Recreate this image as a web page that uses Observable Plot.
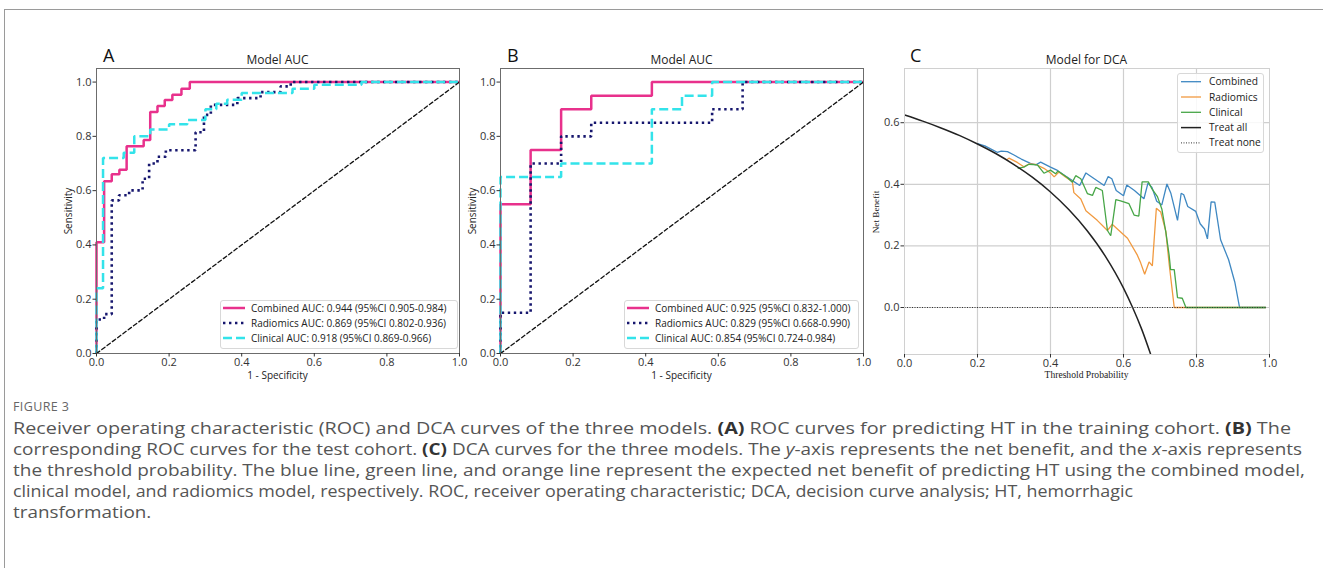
<!DOCTYPE html>
<html><head><meta charset="utf-8">
<script src="https://cdn.jsdelivr.net/npm/d3@7"></script>
<script src="https://cdn.jsdelivr.net/npm/@observablehq/plot@0.6"></script>
<style>
body{margin:0;background:#fff;}
#root{position:relative;width:1323px;height:568px;overflow:hidden;font-family:"Open Sans",sans-serif;background:#fff;}
.lbl{position:absolute;white-space:nowrap;line-height:1;}
.cap{position:absolute;left:13px;white-space:nowrap;color:#555;font-size:15.5px;line-height:21px;transform-origin:0 50%;}
.cap b{color:#333;}
</style></head><body><div id="root"></div>
<script>
// ---------- DATA ----------
const rocTicks = [0, 0.2, 0.4, 0.6, 0.8, 1.0];
const dcaXTicks = [0, 0.2, 0.4, 0.6, 0.8, 1.0];
const dcaYTicks = [0, 0.2, 0.4, 0.6];
const dcaGridX = [0.2, 0.4, 0.6, 0.8];

// Panel A: training cohort ROC (1 - specificity, sensitivity)
const trainCombinedFpr = [0,0,0.021,0.021,0.042,0.042,0.063,0.063,0.083,0.083,0.13,0.13,0.148,0.148,0.168,0.168,0.188,0.188,0.209,0.209,0.234,0.234,0.257,0.257,1];
const trainCombinedTpr = [0,0.41,0.41,0.635,0.635,0.66,0.66,0.677,0.677,0.764,0.764,0.787,0.787,0.89,0.89,0.912,0.912,0.934,0.934,0.953,0.953,0.975,0.975,1,1];
const trainRadiomicsFpr = [0,0,0.021,0.021,0.042,0.042,0.062,0.062,0.09,0.09,0.127,0.127,0.145,0.145,0.168,0.168,0.191,0.191,0.273,0.273,0.296,0.296,0.315,0.315,0.388,0.388,0.452,0.452,0.507,0.507,0.535,0.535,1];
const trainRadiomicsTpr = [0,0.125,0.125,0.145,0.145,0.564,0.564,0.583,0.583,0.601,0.601,0.644,0.644,0.7,0.7,0.725,0.725,0.749,0.749,0.815,0.815,0.879,0.879,0.916,0.916,0.941,0.941,0.963,0.963,0.984,0.984,1,1];
const trainClinicalFpr = [0,0,0.018,0.018,0.075,0.075,0.104,0.104,0.148,0.148,0.2,0.2,0.25,0.25,0.3,0.3,0.33,0.33,0.36,0.36,0.4,0.4,0.54,0.54,0.6,0.6,0.73,0.73,1];
const trainClinicalTpr = [0,0.24,0.24,0.72,0.72,0.74,0.74,0.8,0.8,0.825,0.825,0.845,0.845,0.86,0.86,0.9,0.9,0.92,0.92,0.935,0.935,0.96,0.96,0.975,0.975,0.99,0.99,1,1];
const trainLegend = ["Combined AUC: 0.944 (95%CI 0.905-0.984)","Radiomics AUC: 0.869 (95%CI 0.802-0.936)","Clinical AUC: 0.918 (95%CI 0.869-0.966)"];

// Panel B: test cohort ROC
const testCombinedFpr = [0,0,0.083,0.083,0.167,0.167,0.25,0.25,0.417,0.417,1];
const testCombinedTpr = [0,0.55,0.55,0.75,0.75,0.9,0.9,0.95,0.95,1,1];
const testRadiomicsFpr = [0,0,0.083,0.083,0.167,0.167,0.25,0.25,0.583,0.583,0.667,0.667,1];
const testRadiomicsTpr = [0,0.15,0.15,0.7,0.7,0.8,0.8,0.85,0.85,0.9,0.9,1,1];
const testClinicalFpr = [0,0,0.167,0.167,0.417,0.417,0.5,0.5,0.583,0.583,1];
const testClinicalTpr = [0,0.65,0.65,0.7,0.7,0.9,0.9,0.95,0.95,1,1];
const testLegend = ["Combined AUC: 0.925 (95%CI 0.832-1.000)","Radiomics AUC: 0.829 (95%CI 0.668-0.990)","Clinical AUC: 0.854 (95%CI 0.724-0.984)"];

const diagX = [0, 1];
const diagY = [0, 1];

// Panel C: decision curves (threshold probability, net benefit)
const dcaCombinedT = [0.2,0.22,0.236,0.254,0.265,0.282,0.3,0.32,0.345,0.36,0.373,0.4,0.419,0.44,0.46,0.48,0.497,0.52,0.547,0.558,0.568,0.58,0.6,0.609,0.63,0.656,0.667,0.678,0.691,0.705,0.719,0.73,0.748,0.758,0.765,0.776,0.798,0.81,0.822,0.83,0.84,0.85,0.866,0.888,0.905,0.918,0.99];
const dcaCombinedNB = [0.532,0.525,0.515,0.504,0.508,0.506,0.495,0.482,0.468,0.463,0.472,0.456,0.445,0.428,0.412,0.396,0.437,0.418,0.396,0.425,0.418,0.38,0.363,0.398,0.38,0.353,0.404,0.39,0.345,0.333,0.401,0.37,0.283,0.371,0.366,0.328,0.312,0.272,0.255,0.223,0.343,0.342,0.22,0.155,0.082,0,0];
const dcaRadiomicsT = [0.28,0.286,0.309,0.327,0.341,0.359,0.382,0.4,0.41,0.423,0.44,0.46,0.464,0.483,0.497,0.528,0.556,0.569,0.611,0.638,0.647,0.658,0.67,0.679,0.69,0.702,0.716,0.725,0.739,0.99];
const dcaRadiomicsNB = [0.479,0.485,0.471,0.457,0.466,0.465,0.452,0.437,0.424,0.44,0.425,0.408,0.373,0.352,0.314,0.283,0.25,0.27,0.225,0.17,0.145,0.108,0.148,0.135,0.322,0.31,0.247,0.142,0,0];
const dcaClinicalT = [0.31,0.327,0.341,0.364,0.382,0.4,0.414,0.42,0.446,0.46,0.469,0.483,0.501,0.515,0.524,0.542,0.556,0.565,0.579,0.592,0.615,0.629,0.642,0.651,0.668,0.678,0.693,0.705,0.716,0.725,0.729,0.739,0.748,0.761,0.771,0.99];
const dcaClinicalNB = [0.452,0.456,0.465,0.463,0.436,0.446,0.434,0.443,0.422,0.407,0.428,0.418,0.37,0.364,0.39,0.38,0.25,0.233,0.35,0.346,0.337,0.3,0.297,0.408,0.408,0.385,0.36,0.32,0.245,0.17,0.123,0.123,0.032,0.03,0,0];
const dcaTreatAllT = [0,0.05,0.1,0.15,0.2,0.25,0.3,0.35,0.4,0.45,0.5,0.55,0.6,0.625,0.65,0.675];
const dcaTreatAllNB = [0.625,0.605,0.583,0.559,0.531,0.5,0.464,0.423,0.375,0.318,0.25,0.167,0.063,0,-0.071,-0.154];
const dcaTreatNoneT = [0, 0.99];
const dcaTreatNoneNB = [0, 0];
const dcaLegend = ["Combined","Radiomics","Clinical","Treat all","Treat none"];

const captionLines = [
  "Receiver operating characteristic (ROC) and DCA curves of the three models. <b>(A)</b> ROC curves for predicting HT in the training cohort. <b>(B)</b> The",
  "corresponding ROC curves for the test cohort. <b>(C)</b> DCA curves for the three models. The <i>y</i>-axis represents the net benefit, and the <i>x</i>-axis represents",
  "the threshold probability. The blue line, green line, and orange line represent the expected net benefit of predicting HT using the combined model,",
  "clinical model, and radiomics model, respectively. ROC, receiver operating characteristic; DCA, decision curve analysis; HT, hemorrhagic",
  "transformation."
];
const captionLineEnds = [1291, 1302, 1305, 1133, 118];

// ---------- STYLES ----------
const PINK = "#e8318c", NAVY = "#16166e", CYAN = "#33e3ea";
const BLUE = "#3f88c2", ORANGE = "#f19a40", GREEN = "#47a647", BLACK = "#222";
const rocStyles = [
  {stroke: PINK, strokeWidth: 2.5, dash: null},
  {stroke: NAVY, strokeWidth: 2.6, dash: "2.4,3.6"},
  {stroke: CYAN, strokeWidth: 2.5, dash: "9,4"}
];
const dcaStyles = [
  {stroke: BLUE, strokeWidth: 1.3, dash: null},
  {stroke: ORANGE, strokeWidth: 1.3, dash: null},
  {stroke: GREEN, strokeWidth: 1.3, dash: null},
  {stroke: BLACK, strokeWidth: 1.5, dash: null},
  {stroke: "#333", strokeWidth: 1, dash: "1,1.5"}
];

const root = document.getElementById("root");

// outer figure frame
const fr = document.createElement("div");
Object.assign(fr.style, {position: "absolute", left: "4px", top: "9px", right: "-2px", bottom: "-2px", borderTop: "1px solid #9a9a9a", borderLeft: "1px solid #9a9a9a"});
root.appendChild(fr);

function addText(html, x, y, opts) {
  const d = document.createElement("div");
  d.className = "lbl";
  d.innerHTML = html;
  d.style.left = x + "px"; d.style.top = y + "px";
  d.style.fontSize = (opts.size || 11) + "px";
  d.style.fontFamily = opts.family || "'Open Sans', sans-serif";
  d.style.color = opts.color || "#222";
  const rot = opts.rotate ? " rotate(-90deg)" : "";
  d.style.transform = (opts.anchor === "left" ? "translate(0,-50%)" : "translate(-50%,-50%)") + rot;
  root.appendChild(d);
  return d;
}

function lineMark(xs, ys, st, extra) {
  const o = {x: xs, y: ys, stroke: st.stroke, strokeWidth: st.strokeWidth, strokeLinejoin: "miter", strokeLinecap: "butt"};
  if (st.dash) o.strokeDasharray = st.dash;
  return Plot.line(ys, Object.assign(o, extra || {}));
}

const plotStyle = {fontFamily: "'Open Sans', sans-serif", fontSize: "11px", color: "#333", background: "transparent", overflow: "visible"};

function rocChart(series) {
  return Plot.plot({
    width: 430, height: 340, marginLeft: 56, marginRight: 11, marginTop: 28, marginBottom: 27,
    x: {domain: [0, 1]}, y: {domain: [0, 1.05]},
    style: plotStyle,
    marks: [
      ...series.map((s, i) => lineMark(s[0], s[1], rocStyles[i])),
      Plot.line(diagY, {x: diagX, y: diagY, stroke: "#111", strokeWidth: 1.3, strokeDasharray: "4,2.6"}),
      Plot.frame({stroke: "#6c6c6c"}),
      Plot.axisX({ticks: rocTicks, tickFormat: ".1f", tickSize: 3.5, tickPadding: 1.5, label: null}),
      Plot.axisY({ticks: rocTicks, tickFormat: ".1f", tickSize: 3.5, tickPadding: 1.5, label: null})
    ]
  });
}

function dcaChart() {
  const series = [[dcaCombinedT, dcaCombinedNB], [dcaRadiomicsT, dcaRadiomicsNB], [dcaClinicalT, dcaClinicalNB]];
  return Plot.plot({
    width: 432, height: 341, marginLeft: 56, marginRight: 11, marginTop: 28, marginBottom: 27,
    x: {domain: [0, 1]}, y: {domain: [-0.1526, 0.776]},
    style: plotStyle,
    marks: [
      Plot.gridX({ticks: dcaGridX, stroke: "#cfcfcf", strokeOpacity: 1, strokeWidth: 1.2}),
      Plot.gridY({ticks: dcaYTicks, stroke: "#cfcfcf", strokeOpacity: 1, strokeWidth: 1.2}),
      ...series.map((s, i) => lineMark(s[0], s[1], dcaStyles[i])),
      lineMark(dcaTreatAllT, dcaTreatAllNB, dcaStyles[3], {curve: "monotone-x", clip: true}),
      lineMark(dcaTreatNoneT, dcaTreatNoneNB, dcaStyles[4]),
      Plot.frame({stroke: "#d0d0d0"}),
      Plot.axisX({ticks: dcaXTicks, tickFormat: ".1f", tickSize: 3.5, tickPadding: 1.5, label: null}),
      Plot.axisY({ticks: dcaYTicks, tickFormat: ".1f", tickSize: 3.5, tickPadding: 1.5, label: null})
    ]
  });
}

function place(el, left, top) {
  const w = document.createElement("div");
  Object.assign(w.style, {position: "absolute", left: left + "px", top: top + "px"});
  w.appendChild(el);
  root.appendChild(w);
}

function legend(left, top, w, h, labels, styles, cfg) {
  const ns = "http://www.w3.org/2000/svg";
  const box = document.createElement("div");
  Object.assign(box.style, {position: "absolute", left: left + "px", top: top + "px", width: w + "px", height: h + "px",
    border: "1px solid #d8d8d8", borderRadius: "3px", background: "rgba(255,255,255,0.85)", boxSizing: "border-box"});
  const svg = document.createElementNS(ns, "svg");
  svg.setAttribute("width", w); svg.setAttribute("height", h);
  svg.style.position = "absolute"; svg.style.left = "-1px"; svg.style.top = "-1px"; svg.style.overflow = "visible";
  labels.forEach((lab, i) => {
    const y = cfg.y0 + i * cfg.gap;
    const st = styles[i];
    const ln = document.createElementNS(ns, "line");
    ln.setAttribute("x1", cfg.sx0); ln.setAttribute("x2", cfg.sx1);
    ln.setAttribute("y1", y); ln.setAttribute("y2", y);
    ln.setAttribute("stroke", st.stroke); ln.setAttribute("stroke-width", st.strokeWidth);
    if (st.dash) ln.setAttribute("stroke-dasharray", st.dash);
    svg.appendChild(ln);
    const t = document.createElementNS(ns, "text");
    t.setAttribute("x", cfg.tx); t.setAttribute("y", y);
    t.setAttribute("dy", "0.35em");
    t.setAttribute("font-size", cfg.fs);
    t.setAttribute("font-family", "'Open Sans', sans-serif");
    t.setAttribute("fill", "#222");
    t.textContent = lab;
    svg.appendChild(t);
  });
  box.appendChild(svg);
  root.appendChild(box);
}

// Panel A
place(rocChart([[trainCombinedFpr, trainCombinedTpr], [trainRadiomicsFpr, trainRadiomicsTpr], [trainClinicalFpr, trainClinicalTpr]]), 40, 40);
// Panel B
place(rocChart([[testCombinedFpr, testCombinedTpr], [testRadiomicsFpr, testRadiomicsTpr], [testClinicalFpr, testClinicalTpr]]), 444, 40);
// Panel C
place(dcaChart(), 848, 40);

// legends
const rocCfg = {y0: 8, gap: 15, sx0: 3, sx1: 25, tx: 31, fs: 10};
legend(220, 300, 238, 49, trainLegend, rocStyles, rocCfg);
legend(624, 300, 235, 49, testLegend, rocStyles, rocCfg);
legend(1177, 73, 87, 80, dcaLegend, dcaStyles, {y0: 8.7, gap: 15.3, sx0: 4, sx1: 24, tx: 32, fs: 10.2});

// panel letters & titles
addText("A", 103, 55, {size: 18, anchor: "left", color: "#111"});
addText("B", 507, 55, {size: 18, anchor: "left", color: "#111"});
addText("C", 910, 55, {size: 18, anchor: "left", color: "#111"});
addText("Model AUC", 277.5, 60, {size: 12});
addText("Model AUC", 681.5, 60, {size: 12});
addText("Model for DCA", 1086.5, 60, {size: 12});

// axis labels
addText("Sensitivity", 68, 211, {size: 10, rotate: true});
addText("Sensitivity", 472, 211, {size: 10, rotate: true});
addText("Net Benefit", 877, 212, {size: 9.2, rotate: true, family: "'Liberation Serif', serif"});
addText("1 - Specificity", 277.5, 375, {size: 10});
addText("1 - Specificity", 681.5, 375, {size: 10});
addText("Threshold Probability", 1086.5, 375, {size: 9.6, family: "'Liberation Serif', serif"});

// caption
const fig = addText("FIGURE 3", 13, 407, {size: 12.5, anchor: "left", color: "#666"});
fig.style.letterSpacing = "0.4px";
const capEls = captionLines.map((html, i) => {
  const d = document.createElement("div");
  d.className = "cap";
  d.innerHTML = html;
  d.style.top = (417.5 + i * 21) + "px";
  root.appendChild(d);
  return d;
});
function fitCaption() {
  const scales = capEls.map((d, i) => {
    d.style.transform = "none";
    return (captionLineEnds[i] - 13) / d.getBoundingClientRect().width;
  });
  const avg = (scales[0] + scales[1] + scales[2] + scales[3]) / 4;
  capEls.forEach((d, i) => d.style.transform = "scaleX(" + (i < 4 ? scales[i] : avg) + ")");
}
fitCaption();
if (document.fonts && document.fonts.ready) document.fonts.ready.then(fitCaption);
</script>
</body></html>
